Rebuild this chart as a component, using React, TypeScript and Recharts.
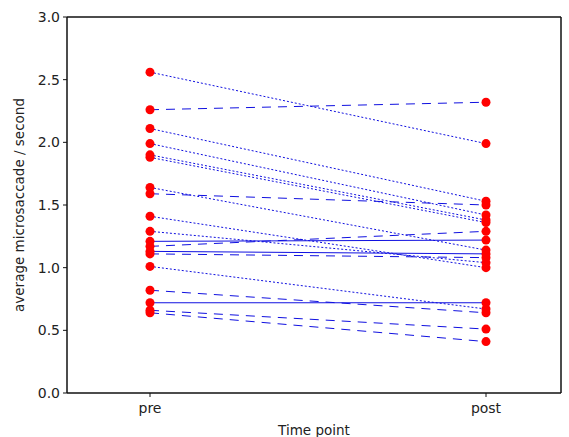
import { LineChart, Line, XAxis, YAxis } from 'recharts'

const timePoints = ['pre', 'post']

const preValues = [2.56, 2.26, 2.11, 1.99, 1.9, 1.88, 1.64, 1.59, 1.41, 1.29, 1.21, 1.17, 1.13, 1.11, 1.01, 0.82, 0.72, 0.66, 0.64]
const postValues = [1.99, 2.32, 1.53, 1.42, 1.38, 1.36, 1.14, 1.5, 1.0, 1.04, 1.22, 1.29, 1.11, 1.08, 0.67, 0.64, 0.72, 0.51, 0.41]
// line style per subject: d = dotted, l = long dash, s = solid
const lineStyles = ['d', 'l', 'd', 'd', 'd', 'd', 'd', 'l', 'd', 'd', 's', 'l', 's', 'l', 'd', 'l', 's', 'l', 'l']

const yTicks = [0, 0.5, 1, 1.5, 2, 2.5, 3]

const dashFor: Record<string, string | undefined> = {
  d: '2 2',
  l: '9 7',
  s: undefined,
}

const chartData = timePoints.map((t, i) => {
  const row: Record<string, string | number> = { t }
  preValues.forEach((v, k) => {
    row[`s${k}`] = i === 0 ? v : postValues[k]
  })
  return row
})

const font = '"DejaVu Sans", sans-serif'
const tickStyle = { fill: '#222', fontSize: 14, fontFamily: font }
const spine = { stroke: '#111', strokeWidth: 1.5 }

export default function App() {
  return (
    <div style={{ position: 'absolute', left: 0, top: 0, background: '#fff' }}>
      <LineChart width={569} height={437} data={chartData} margin={{ top: 16, right: 7, bottom: 0, left: 0 }}>
        <XAxis
          dataKey="t"
          padding={{ left: 83, right: 75 }}
          height={44}
          axisLine={spine}
          tickLine={{ stroke: '#111' }}
          tickSize={4}
          tick={tickStyle}
          tickMargin={6}
          label={{ value: 'Time point', position: 'insideBottom', offset: 2, style: { ...tickStyle, fontSize: 13.5 } }}
        />
        <XAxis xAxisId="top" orientation="top" dataKey="t" height={1} tick={false} tickLine={false} axisLine={spine} />
        <YAxis
          domain={[0, 3]}
          ticks={yTicks}
          width={67}
          axisLine={spine}
          tickLine={{ stroke: '#111' }}
          tickSize={4}
          tick={tickStyle}
          tickMargin={3}
          tickFormatter={(v) => Number(v).toFixed(1)}
          label={{
            value: 'average microsaccade / second',
            angle: -90,
            position: 'insideLeft',
            offset: 19,
            style: { ...tickStyle, fontSize: 13.5, textAnchor: 'middle' },
          }}
        />
        <YAxis yAxisId="right" orientation="right" domain={[0, 3]} width={1} tick={false} tickLine={false} axisLine={spine} />
        {preValues.map((_, k) => (
          <Line
            key={k}
            dataKey={`s${k}`}
            stroke="#1010e0"
            strokeWidth={1}
            strokeDasharray={dashFor[lineStyles[k]]}
            dot={{ r: 4.5, fill: '#ff0000', stroke: '#ff0000', strokeWidth: 0 }}
            isAnimationActive={false}
          />
        ))}
      </LineChart>
    </div>
  )
}
